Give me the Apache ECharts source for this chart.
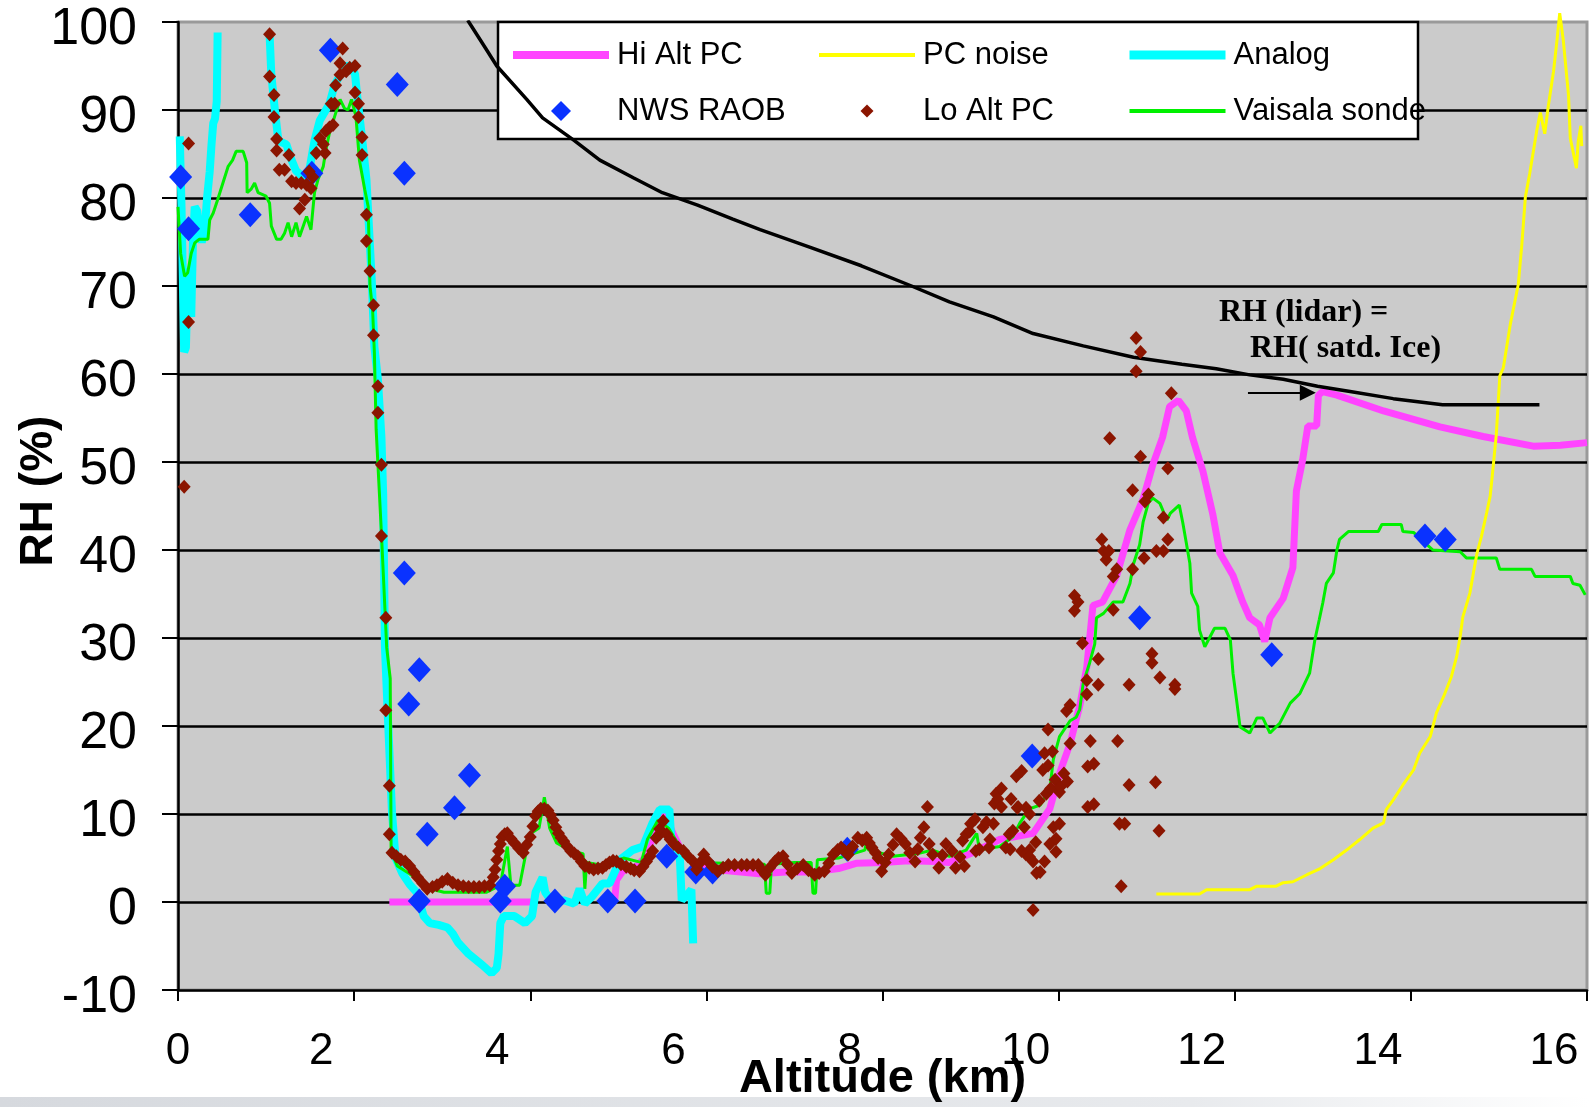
<!DOCTYPE html>
<html>
<head>
<meta charset="utf-8">
<script src="https://cdn.jsdelivr.net/npm/echarts/dist/echarts.min.js"></script>
<style>
  html, body { margin: 0; padding: 0; background: #ffffff; }
  #chart { width: 1589px; height: 1107px; }
</style>
</head>
<body>
<div id="chart"></div>
<script>
// Relative humidity profiles versus altitude: [altitude km, RH %]

const hiAltPC = [
  [2.40,0],[4.06,0],[4.5,null],
  [4.96,0.3],[4.98,2.5],[5.05,3.5],[5.20,4.0],[5.30,5.0],[5.38,7.0],[5.45,9.5],[5.50,10.3],[5.55,9.5],
  [5.62,7.8],[5.72,5.8],[5.85,4.6],[6.00,3.8],[6.30,3.5],[6.60,3.2],[6.90,3.4],[7.20,3.4],[7.50,3.8],
  [7.70,4.4],[8.00,4.5],[8.30,4.7],[8.60,4.6],[8.76,4.5],[9.00,5.5],[9.33,7.1],[9.71,7.8],[9.90,10.6],
  [10.02,14.9],[10.13,18.0],[10.24,22.3],[10.32,26.7],[10.39,33.7],[10.50,34.1],[10.66,37.1],[10.81,42.3],
  [10.96,45.8],[11.07,49.7],[11.18,52.8],[11.26,56.3],[11.36,57.0],[11.45,55.8],[11.52,52.8],[11.64,48.9],
  [11.75,44.1],[11.83,39.7],[11.98,37.1],[12.09,34.1],[12.17,32.3],[12.28,31.5],[12.34,29.6],[12.40,32.3],
  [12.55,34.5],[12.66,38.0],[12.70,46.7],[12.77,50.2],[12.83,54.1],[12.93,54.1],[12.95,57.6],[13.00,58.0],
  [13.16,57.6],[13.69,55.8],[14.33,54.0],[14.82,52.9],[15.39,51.8],[15.70,51.9],[16.00,52.2]
];

const pcNoise = [
  [11.11,0.9],[11.60,0.9],[11.68,1.4],[12.17,1.4],[12.25,1.8],[12.47,1.8],[12.55,2.2],[12.66,2.3],
  [12.82,3.1],[12.97,3.8],[13.12,4.8],[13.27,5.9],[13.42,7.1],[13.57,8.4],[13.69,9.0],[13.72,10.5],
  [13.80,11.6],[13.91,13.3],[14.03,15.0],[14.10,16.9],[14.22,18.8],[14.29,21.5],[14.37,23.3],[14.46,25.6],
  [14.52,27.9],[14.56,30.2],[14.59,32.4],[14.67,35.1],[14.71,37.4],[14.75,39.6],[14.80,41.5],[14.86,44.2],
  [14.90,46.1],[14.92,48.0],[14.97,53.1],[15.01,59.8],[15.05,60.7],[15.13,65.7],[15.22,70.2],[15.26,74.7],
  [15.30,80.1],[15.35,82.8],[15.43,87.7],[15.47,89.7],[15.52,87.3],[15.56,90.4],[15.62,94.4],[15.66,98.0],
  [15.69,101.0],[15.73,98.0],[15.79,91.7],[15.81,86.8],[15.88,83.4],[15.90,86.4],[15.93,88.2],[15.94,85.9]
];

const analog = [
  [0.02,87],[0.04,79],[0.06,68],[0.07,62.5],[0.09,63],[0.10,67],[0.12,72],[0.13,68],[0.15,66.5],
  [0.17,75],[0.19,79],[0.22,78.5],[0.24,76],[0.27,75],[0.30,76],[0.33,80],[0.36,83],[0.38,86],
  [0.40,88.5],[0.42,89],[0.44,91],[0.45,98.8],[0.75,null],
  [1.04,98.6],[1.06,94],[1.10,90],[1.14,86.5],[1.23,86.1],[1.29,84.3],[1.34,83.1],[1.42,82.4],
  [1.49,83.1],[1.55,86.5],[1.61,88.8],[1.72,90.7],[1.78,92.9],[1.85,94.1],[1.93,95.2],[2.01,94.1],
  [2.04,91.1],[2.10,85.9],[2.14,82.1],[2.16,78.3],[2.20,70.7],[2.23,63.1],[2.27,59.4],[2.31,52.8],
  [2.33,46.3],[2.35,28.9],[2.43,10.2],[2.47,5.0],[2.55,3.2],[2.63,2.0],[2.71,1.1],[2.79,-1.6],
  [2.86,-2.4],[2.96,-2.6],[3.06,-2.9],[3.12,-3.6],[3.18,-4.6],[3.30,-5.9],[3.46,-7.2],[3.56,-8.1],
  [3.62,-7.5],[3.64,-5.9],[3.66,-2.4],[3.70,-1.6],[3.82,-1.6],[3.94,-2.4],[4.02,-1.6],[4.06,1.1],
  [4.14,2.8],[4.17,1.1],[4.26,-0.2],[4.38,0.2],[4.50,-0.2],[4.56,1.5],[4.62,-0.2],[4.70,0.6],
  [4.82,2.1],[4.90,2.1],[5.02,4.8],[5.16,5.9],[5.28,6.3],[5.39,9.0],[5.47,10.5],[5.58,10.5],
  [5.60,7.4],[5.70,4.8],[5.72,0.2],[5.78,0.8],[5.83,1.4],[5.85,-4.7]
];

const nwsRaob = [
  [0.03,82.4],[0.12,76.5],[0.82,78.1],[1.52,82.8],[1.73,96.8],[2.49,92.9],[2.57,82.8],[2.57,37.4],
  [2.62,22.5],[2.74,26.4],[2.83,7.7],[2.74,0.1],[3.14,10.7],[3.31,14.4],[3.66,0.1],[3.71,1.8],
  [4.28,0.1],[4.88,0.1],[5.19,0.1],[5.55,5.2],[5.88,3.4],[6.07,3.4],[7.60,6.0],[9.70,16.6],
  [10.92,32.3],[12.42,28.1],[14.16,41.6],[14.39,41.2]
];

const loAltPC = [
  [0.07,47.2],[0.12,86.2],[0.12,65.9],
  [1.04,98.6],[1.04,93.8],[1.09,91.7],[1.09,89.2],[1.12,86.7],[1.12,85.4],[1.15,83.2],[1.21,83.2],
  [1.26,84.9],[1.29,81.9],[1.34,81.7],[1.40,81.7],[1.46,81.5],[1.51,81.1],[1.53,82.4],[1.49,83.0],
  [1.44,79.8],[1.38,78.8],[1.57,85.1],[1.61,86.8],[1.65,86.1],[1.67,85.1],[1.68,87.6],[1.72,88.0],
  [1.76,88.3],[1.74,90.7],[1.78,90.7],[1.79,92.8],[1.84,94.0],[1.84,95.3],[1.87,97.0],[1.91,94.4],
  [1.95,94.8],[2.01,95.0],[2.01,92.0],[2.05,90.7],[2.05,89.2],[2.09,86.9],[2.09,84.9],[2.14,78.1],
  [2.14,75.1],[2.18,71.7],[2.22,67.8],[2.22,64.4],[2.27,58.6],[2.27,55.6],[2.31,49.7],[2.31,41.6],
  [2.36,32.3],[2.36,21.8],[2.40,13.2],[2.40,7.7],
  [2.43,5.6],[2.48,5.2],[2.53,4.8],[2.58,4.6],[2.63,4.1],[2.68,3.4],[2.72,2.8],[2.78,2.1],[2.83,1.5],
  [2.89,1.7],[2.94,1.9],[3.00,2.3],[3.06,2.6],[3.12,2.2],[3.18,1.9],[3.24,1.8],[3.30,1.7],[3.36,1.7],
  [3.42,1.7],[3.48,1.8],[3.54,1.9],[3.58,2.8],[3.60,3.7],[3.62,4.8],[3.64,5.8],[3.66,6.6],[3.68,7.4],
  [3.71,7.7],[3.74,7.8],[3.78,7.2],[3.82,6.7],[3.87,6.1],[3.92,5.6],[3.96,6.5],[4.00,7.4],[4.03,8.6],
  [4.06,9.8],[4.09,10.3],[4.12,10.6],[4.16,10.6],[4.20,10.4],[4.23,9.9],[4.26,9.3],[4.29,8.5],
  [4.32,7.8],[4.35,7.3],[4.38,6.9],[4.42,6.3],[4.46,5.8],[4.50,5.5],[4.54,5.2],[4.58,4.6],[4.62,4.1],
  [4.67,3.9],[4.72,3.7],[4.77,3.8],[4.82,3.9],[4.86,4.2],[4.90,4.5],[4.94,4.7],[4.98,4.6],[5.03,4.3],
  [5.09,4.0],[5.14,3.8],[5.18,3.6],[5.24,3.5],[5.28,4.0],[5.32,4.6],[5.36,5.2],[5.39,5.8],[5.43,7.3],
  [5.47,7.7],[5.47,8.3],[5.51,9.2],[5.55,7.7],[5.59,7.1],[5.63,6.6],[5.68,6.2],[5.74,5.8],[5.79,5.2],
  [5.85,4.6],[5.89,3.7],[5.93,4.5],[5.97,5.4],[6.02,4.6],[6.07,4.0],[6.13,3.5],[6.19,3.9],[6.25,4.2],
  [6.32,4.2],[6.40,4.2],[6.46,4.2],[6.53,4.2],[6.59,4.2],[6.63,3.6],[6.67,3.1],[6.72,3.9],[6.78,4.6],
  [6.82,5.0],[6.87,5.2],[6.92,4.3],[6.97,3.3],[7.03,3.8],[7.10,4.2],[7.16,3.6],[7.23,3.1],[7.28,3.3],
  [7.34,3.5],[7.39,4.4],[7.44,5.4],[7.49,5.9],[7.53,6.2],[7.57,5.8],[7.61,5.4],[7.66,6.3],[7.72,7.3],
  [7.77,7.0],[7.82,7.3],[7.85,6.7],[7.88,6.2],[7.92,5.6],[7.95,5.0],[7.99,3.5],[8.03,4.5],[8.07,5.4],
  [8.12,6.5],[8.16,7.7],[8.21,7.2],[8.26,6.6],[8.31,5.6],[8.37,4.6],[8.40,6.0],[8.43,7.3],[8.47,8.5],
  [8.51,10.8],[8.53,6.6],[8.57,5.4],[8.64,3.9],[8.68,5.3],[8.72,6.6],[8.79,5.8],[8.83,3.9],[8.88,5.1],
  [8.91,7.0],[8.93,4.1],[8.95,7.7],[8.99,8.0],[9.00,8.9],[9.05,9.4],[9.06,5.8],[9.10,6.0],[9.14,8.5],
  [9.18,9.1],[9.21,6.2],[9.22,7.1],[9.26,8.9],[9.27,11.2],[9.29,12.3],[9.31,11.7],[9.35,10.8],
  [9.35,12.9],[9.40,6.2],[9.44,7.7],[9.45,6.0],[9.46,11.7],[9.48,8.1],[9.52,14.3],[9.53,10.7],
  [9.54,10.8],[9.58,14.9],[9.58,5.8],[9.61,8.5],[9.63,5.4],[9.63,10.7],[9.67,10.0],[9.67,5.9],
  [9.67,5.1],[9.71,4.6],[9.71,-0.9],[9.74,6.8],[9.75,3.3],[9.78,11.5],[9.79,3.4],[9.82,15.0],
  [9.84,16.9],[9.84,4.6],[9.86,12.3],[9.88,19.6],[9.88,15.5],[9.90,6.6],[9.91,12.9],[9.93,17.1],
  [9.94,8.5],[9.96,13.9],[9.97,7.2],[9.97,5.7],[10.01,12.5],[10.01,8.9],[10.02,13.1],[10.06,14.6],
  [10.09,21.7],[10.10,13.7],[10.13,22.4],[10.13,18.0],[10.18,34.8],[10.18,33.1],[10.22,34.1],
  [10.27,29.4],[10.32,25.2],[10.32,23.6],[10.33,15.4],[10.33,10.8],[10.36,18.3],[10.40,15.7],
  [10.40,11.1],[10.45,27.6],[10.45,24.7],[10.49,41.2],[10.51,39.9],[10.54,38.9],[10.57,39.9],
  [10.58,52.7],[10.62,37.0],[10.62,33.2],[10.66,37.8],[10.67,18.3],[10.69,8.9],[10.71,1.8],
  [10.75,8.9],[10.80,24.7],[10.80,13.3],[10.84,46.8],[10.84,37.8],[10.88,64.1],[10.88,60.3],
  [10.93,62.5],[10.93,50.6],[10.97,39.1],[10.98,45.5],[11.02,46.3],[11.06,28.2],[11.06,27.2],
  [11.10,13.6],[11.11,39.9],[11.14,8.1],[11.15,25.5],[11.19,43.7],[11.19,39.9],[11.24,49.3],
  [11.24,41.2],[11.28,57.8],[11.32,24.7],[11.32,24.2]
];

const vaisala = [
  [0.00,79.0],[0.03,73.7],[0.075,71.1],[0.11,71.5],[0.15,73.7],[0.19,74.9],[0.24,75.3],[0.34,75.3],
  [0.36,77.5],[0.40,78.3],[0.45,79.8],[0.51,81.7],[0.57,83.6],[0.62,84.3],[0.66,85.3],[0.74,85.3],
  [0.78,84.0],[0.785,80.6],[0.83,81.0],[0.87,81.7],[0.91,80.6],[1.00,80.2],[1.04,79.4],[1.06,76.8],
  [1.12,75.3],[1.17,75.3],[1.21,76.0],[1.25,77.2],[1.29,75.6],[1.34,77.2],[1.38,75.6],[1.46,77.9],
  [1.51,76.4],[1.55,80.6],[1.59,82.1],[1.65,83.6],[1.68,85.5],[1.72,87.4],[1.78,89.3],[1.84,91.2],
  [1.89,90.2],[1.93,90.0],[1.97,91.2],[2.02,89.3],[2.06,84.3],[2.12,81.0],[2.16,79.0],[2.18,70.0],
  [2.21,67.3],[2.23,62.4],[2.25,53.7],[2.31,41.9],[2.37,28.9],[2.41,25.4],[2.42,5.8],[2.49,4.1],
  [2.63,3.2],[2.74,2.4],[2.86,1.5],[3.02,1.1],[3.26,1.1],[3.50,1.1],[3.66,1.9],[3.74,6.3],[3.76,6.3],
  [3.78,1.9],[3.88,1.9],[3.94,5.0],[3.98,7.6],[4.10,8.4],[4.16,11.9],[4.22,8.4],[4.30,6.7],[4.46,5.8],
  [4.60,5.5],[4.62,1.5],[4.64,4.5],[4.86,4.1],[5.06,5.0],[5.26,4.5],[5.33,7.1],[5.45,9.3],[5.57,8.4],
  [5.73,5.8],[5.92,4.5],[6.20,4.4],[6.50,4.3],[6.66,4.3],[6.68,1.0],[6.72,1.0],[6.74,4.3],[7.00,4.5],
  [7.19,4.5],[7.21,1.0],[7.24,1.0],[7.26,4.8],[7.50,5.0],[7.80,5.9],[7.82,7.0],[7.84,5.9],[8.12,5.2],
  [8.40,5.5],[8.57,5.9],[8.76,5.2],[8.95,5.9],[9.07,7.8],[9.10,5.9],[9.33,6.3],[9.48,7.4],[9.56,9.0],
  [9.67,10.6],[9.79,11.0],[9.90,12.8],[9.94,16.2],[10.01,18.8],[10.13,20.6],[10.20,21.0],[10.24,21.9],
  [10.28,24.9],[10.35,27.1],[10.41,29.3],[10.43,32.3],[10.51,32.8],[10.62,34.1],[10.73,34.1],
  [10.81,36.2],[10.85,38.4],[10.92,40.6],[10.96,43.2],[11.02,45.4],[11.07,45.9],[11.15,45.3],
  [11.23,43.4],[11.27,44.2],[11.37,45.1],[11.41,43.1],[11.49,38.5],[11.51,35.1],[11.58,33.6],
  [11.60,30.9],[11.66,29.0],[11.77,31.1],[11.89,31.1],[11.95,29.8],[11.98,26.0],[12.02,23.0],
  [12.06,19.9],[12.17,19.2],[12.25,20.9],[12.32,20.9],[12.40,19.2],[12.51,20.3],[12.63,22.6],
  [12.74,23.7],[12.85,26.0],[12.91,29.8],[12.96,32.1],[13.00,34.0],[13.04,36.2],[13.12,37.4],
  [13.16,40.0],[13.19,41.2],[13.29,42.1],[13.63,42.1],[13.67,42.9],[13.89,42.9],[13.91,42.1],
  [14.03,42.0],[14.25,40.0],[14.56,39.8],[14.63,39.1],[14.97,39.1],[15.01,37.8],[15.37,37.8],
  [15.41,37.0],[15.81,37.0],[15.84,36.2],[15.92,36.0],[15.98,34.9]
];

// RH that the lidar reports when the air is saturated with respect to ice
const iceSaturation = [
  [3.29,100.2],[3.50,96.9],[3.62,95.0],[3.96,91.2],[4.14,89.1],[4.49,86.6],[4.79,84.3],[5.17,82.3],
  [5.50,80.6],[5.90,79.2],[6.30,77.6],[6.61,76.4],[7.18,74.4],[7.76,72.3],[8.33,70.0],[8.76,68.2],[9.26,66.5],
  [9.71,64.6],[10.28,63.2],[10.85,61.9],[11.40,61.1],[11.79,60.6],[12.17,59.9],[12.55,59.4],
  [12.94,58.6],[13.31,58.0],[13.80,57.2],[14.36,56.5],[15.46,56.5]
];

// Arrow pointing at where the Hi Alt PC profile meets ice saturation
const arrowStart = [12.15, 57.87];
const arrowEnd = [12.83, 57.87];

const annotationLines = ['RH (lidar) =', 'RH( satd. Ice)'];

const SANS = '"Liberation Sans", Arial, sans-serif';
const SERIF = '"Liberation Serif", "Times New Roman", serif';
const DIAMOND = 'path://M0,-1L1,0L0,1L-1,0Z';

const chart = echarts.init(document.getElementById('chart'), null, { renderer: 'canvas' });

const legendText = {
  color: '#000', fontFamily: SANS, fontSize: 31, lineHeight: 36, padding: [0, 0, 0, 3]
};
function legendColumn(left, itemHeight, data) {
  return {
    orient: 'vertical', left: left, top: 37, padding: 0,
    itemWidth: 96, itemHeight: itemHeight, itemGap: 20,
    selectedMode: false, z: 20,
    textStyle: legendText,
    data: data
  };
}
function lineItem(name, width) {
  return { name: name, itemStyle: { opacity: 0 }, lineStyle: { width: width, opacity: 1 } };
}

chart.setOption({
  animation: false,
  backgroundColor: '#ffffff',
  grid: {
    left: 178, right: 2, top: 22, bottom: 117,
    show: true, backgroundColor: '#CBCBCB',
    borderColor: '#9a9a9a', borderWidth: 3,
    outerBoundsMode: 'none'
  },
  legend: [
    legendColumn(509, 20, [
      lineItem('Hi Alt PC', 8),
      { name: 'NWS RAOB', icon: DIAMOND }
    ]),
    legendColumn(817, 13, [
      lineItem('PC noise', 4),
      { name: 'Lo Alt PC', icon: DIAMOND }
    ]),
    legendColumn(1125, 20, [
      lineItem('Analog', 9),
      lineItem('Vaisala sonde', 4)
    ])
  ],
  xAxis: {
    type: 'value', min: 0, max: 16, interval: 2,
    name: 'Altitude (km)', nameLocation: 'middle', nameGap: 66, nameMoveOverlap: false,
    nameTextStyle: { color: '#000', fontFamily: SANS, fontWeight: 'bold', fontSize: 47 },
    axisLine: { show: true, onZero: false, lineStyle: { color: '#000', width: 2.5 } },
    axisTick: { show: true, inside: false, length: 11, lineStyle: { color: '#000', width: 2 } },
    splitLine: { show: false },
    axisLabel: {
      margin: 40, color: '#000',
      formatter: function (v) { return v === 0 ? '{z|0}' : '{s|' + v + '}'; },
      rich: {
        z: { fontFamily: SANS, fontSize: 44, color: '#000' },
        s: { fontFamily: SANS, fontSize: 44, color: '#000', padding: [0, 66, 0, 0] }
      }
    }
  },
  yAxis: {
    type: 'value', min: -10, max: 100, interval: 10,
    name: 'RH (%)', nameLocation: 'middle', nameGap: 116, nameMoveOverlap: false,
    nameTextStyle: { color: '#000', fontFamily: SANS, fontWeight: 'bold', fontSize: 46, padding: [0, 0, 0, 30] },
    axisLine: { show: true, onZero: false, lineStyle: { color: '#000', width: 2.5 } },
    axisTick: { show: true, inside: false, length: 16, lineStyle: { color: '#000', width: 2 } },
    splitLine: { show: true, showMinLine: false, showMaxLine: false, lineStyle: { color: '#000', width: 2.5 } },
    axisLabel: {
      margin: 41, color: '#000', fontFamily: SANS, fontSize: 52,
      verticalAlign: 'top', lineHeight: 16
    }
  },
  graphic: [
    // white legend panel
    { type: 'rect', z: 1, shape: { x: 498, y: 22, width: 920, height: 117 },
      style: { fill: '#ffffff', stroke: '#000', lineWidth: 2.5 } },
    // faint band along the lower page edge
    { type: 'rect', z: 0, shape: { x: 0, y: 1097, width: 1589, height: 10 },
      style: { fill: new echarts.graphic.LinearGradient(0, 0, 1, 0, [
        { offset: 0, color: '#d6d9de' }, { offset: 0.75, color: '#e8eaed' }, { offset: 1, color: '#ffffff' }
      ]) } },
    { type: 'text', z: 30, x: 1219, y: 313,
      style: { text: annotationLines[0], fill: '#000', fontFamily: SERIF, fontWeight: 'bold', fontSize: 32, verticalAlign: 'middle' } },
    { type: 'text', z: 30, x: 1250, y: 349,
      style: { text: annotationLines[1], fill: '#000', fontFamily: SERIF, fontWeight: 'bold', fontSize: 32, verticalAlign: 'middle' } }
  ],
  series: [
    {
      name: 'Hi Alt PC', type: 'line', data: hiAltPC, z: 2,
      symbol: 'none', connectNulls: false,
      lineStyle: { color: '#FF44FF', width: 7 }, itemStyle: { color: '#FF44FF' }
    },
    {
      name: 'Analog', type: 'line', data: analog, z: 3,
      symbol: 'none', connectNulls: false,
      lineStyle: { color: '#00FFFF', width: 8 }, itemStyle: { color: '#00FFFF' }
    },
    {
      name: 'Vaisala sonde', type: 'line', data: vaisala, z: 4,
      symbol: 'none',
      lineStyle: { color: '#00F000', width: 3 }, itemStyle: { color: '#00F000' }
    },
    {
      name: 'PC noise', type: 'line', data: pcNoise, z: 5, clip: false,
      symbol: 'none',
      lineStyle: { color: '#FFFF00', width: 3 }, itemStyle: { color: '#FFFF00' }
    },
    {
      name: 'RH satd. Ice', type: 'line', data: iceSaturation, z: 5,
      symbol: 'none',
      lineStyle: { color: '#000', width: 3.5 }, itemStyle: { color: '#000' },
      markLine: {
        silent: true, animation: false,
        symbol: ['none', 'triangle'], symbolSize: 16,
        label: { show: false },
        lineStyle: { color: '#000', width: 2, type: 'solid' },
        emphasis: { disabled: true },
        data: [[{ coord: arrowStart }, { coord: arrowEnd }]]
      }
    },
    {
      name: 'NWS RAOB', type: 'scatter', data: nwsRaob, z: 6,
      symbol: 'diamond', symbolSize: [23, 25],
      itemStyle: { color: '#0A32FF', opacity: 1 }
    },
    {
      name: 'Lo Alt PC', type: 'scatter', data: loAltPC, z: 7,
      symbol: 'diamond', symbolSize: [13, 14],
      itemStyle: { color: '#8B1500', opacity: 1 }
    }
  ]
});
</script>
</body>
</html>
